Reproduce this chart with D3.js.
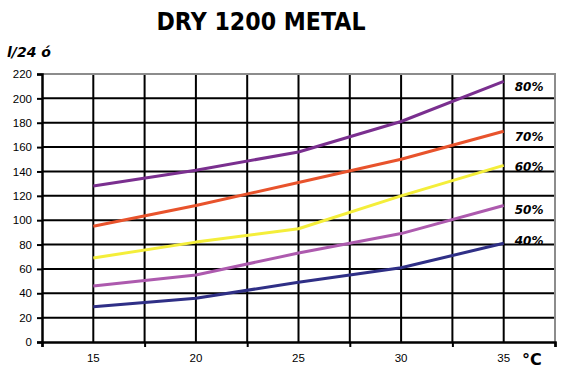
<!DOCTYPE html>
<html>
<head>
<meta charset="utf-8">
<script src="https://cdn.jsdelivr.net/npm/d3@7"></script>
<style>
  body { margin: 0; background: #fff; }
  svg { display: block; }
</style>
</head>
<body>
<div id="chart"></div>
<script>
// categories on x (temperature, °C)
var temps = ["15", "20", "25", "30", "35"];

// series names (relative humidity)
var seriesNames = ["80%", "70%", "60%", "50%", "40%"];

// dehumidification l/24h per series
var rh80 = [128, 141, 156, 181, 214];
var rh70 = [95, 112, 131, 150, 173];
var rh60 = [69, 82, 93, 120, 145];
var rh50 = [46, 55, 73, 89, 112];
var rh40 = [29, 36, 49, 61, 81];

var yTicks = [0, 20, 40, 60, 80, 100, 120, 140, 160, 180, 200, 220];

var seriesColors = ["#7a2f8f", "#e8532c", "#f4ee3a", "#ad5aae", "#2f2f86"];

var allSeries = [rh80, rh70, rh60, rh50, rh40];

// svg size
var svgWidth = 572;
var svgHeight = 378;

var margin = { top: 74, right: 17, bottom: 36, left: 42 };
var width = svgWidth - margin.left - margin.right;
var height = svgHeight - margin.top - margin.bottom;

var svg = d3.select("#chart")
  .append("svg")
  .attr("width", svgWidth)
  .attr("height", svgHeight);

// title
svg.append("text")
  .attr("x", 261)
  .attr("y", 30)
  .attr("text-anchor", "middle")
  .attr("font-family", "DejaVu Sans, sans-serif")
  .attr("font-weight", "bold")
  .attr("font-size", 24)
  .attr("textLength", 209)
  .attr("lengthAdjust", "spacingAndGlyphs")
  .text("DRY 1200 METAL");

// y unit label
svg.append("text")
  .attr("x", 7)
  .attr("y", 57)
  .attr("font-family", "DejaVu Sans, sans-serif")
  .attr("font-weight", "bold")
  .attr("font-style", "italic")
  .attr("font-size", 14)
  .text("l/24 ó");

var chartGroup = svg.append("g")
  .attr("transform", `translate(${margin.left}, ${margin.top})`);

var xBand = d3.scaleBand()
  .domain(temps)
  .range([0, width])
  .paddingInner(0)
  .paddingOuter(0);

var yLinearScale = d3.scaleLinear()
  .domain([0, 220])
  .range([height, 0]);

var half = xBand.bandwidth() / 2;

// horizontal grid
chartGroup.append("g")
  .selectAll("line")
  .data(yTicks.slice(1, -1))
  .enter()
  .append("line")
  .attr("x1", 0)
  .attr("x2", width)
  .attr("y1", d => yLinearScale(d))
  .attr("y2", d => yLinearScale(d))
  .attr("stroke", "#000")
  .attr("stroke-width", 2);

// vertical grid: band edges and band centers
var vLines = [];
temps.forEach(function(t, i) {
  if (i > 0) vLines.push(xBand(t));
  vLines.push(xBand(t) + half);
});

chartGroup.append("g")
  .selectAll("line")
  .data(vLines)
  .enter()
  .append("line")
  .attr("x1", d => d)
  .attr("x2", d => d)
  .attr("y1", 0)
  .attr("y2", height)
  .attr("stroke", "#000")
  .attr("stroke-width", 2);

// gray frame top and right
chartGroup.append("path")
  .attr("d", `M0,0H${width}V${height}`)
  .attr("fill", "none")
  .attr("stroke", "#8c8c8c")
  .attr("stroke-width", 2);

// y axis
var leftAxis = d3.axisLeft(yLinearScale)
  .tickValues(yTicks)
  .tickSize(5)
  .tickPadding(5);

var yAxis = chartGroup.append("g")
  .call(leftAxis);
yAxis.select(".domain").attr("stroke-width", 2.5);
yAxis.selectAll(".tick line").attr("stroke-width", 2);
yAxis.selectAll("text")
  .attr("font-family", "Liberation Sans, Arial, sans-serif")
  .attr("font-size", 11.5)
  .attr("fill", "#000");

// x axis (ticks on band edges)
var xEdge = d3.scaleLinear().domain([0, temps.length]).range([0, width]);
var bottomAxis = d3.axisBottom(xEdge)
  .ticks(temps.length)
  .tickSize(5)
  .tickFormat("");

var xAxis = chartGroup.append("g")
  .attr("transform", `translate(0, ${height})`)
  .call(bottomAxis);
xAxis.select(".domain").attr("stroke-width", 2.5);
xAxis.selectAll(".tick line").attr("stroke-width", 2);

// x category labels
chartGroup.append("g")
  .selectAll("text")
  .data(temps)
  .enter()
  .append("text")
  .attr("x", d => xBand(d) + half)
  .attr("y", height + 20)
  .attr("text-anchor", "middle")
  .attr("font-family", "Liberation Sans, Arial, sans-serif")
  .attr("font-size", 11.5)
  .text(d => d);

// unit °C
svg.append("text")
  .attr("x", 522)
  .attr("y", 365)
  .attr("font-family", "DejaVu Sans, sans-serif")
  .attr("font-weight", "bold")
  .attr("font-size", 16)
  .text("°C");

// lines
var line = d3.line()
  .x((d, i) => xBand(temps[i]) + half)
  .y(d => yLinearScale(d));

chartGroup.append("g")
  .selectAll("path")
  .data(allSeries)
  .enter()
  .append("path")
  .attr("d", d => line(d))
  .attr("fill", "none")
  .attr("stroke", (d, i) => seriesColors[i])
  .attr("stroke-width", 3)
  .attr("stroke-linejoin", "round");

// series labels to the right of the last point
var labelShift = [10, 10, 6, 8, 2];
chartGroup.append("g")
  .selectAll("text")
  .data(allSeries)
  .enter()
  .append("text")
  .attr("x", xBand(temps[temps.length - 1]) + half + 11)
  .attr("y", (d, i) => yLinearScale(d[d.length - 1]) + labelShift[i])
  .attr("font-family", "DejaVu Sans, sans-serif")
  .attr("font-weight", "bold")
  .attr("font-style", "italic")
  .attr("font-size", 12)
  .text((d, i) => seriesNames[i]);
</script>
</body>
</html>
